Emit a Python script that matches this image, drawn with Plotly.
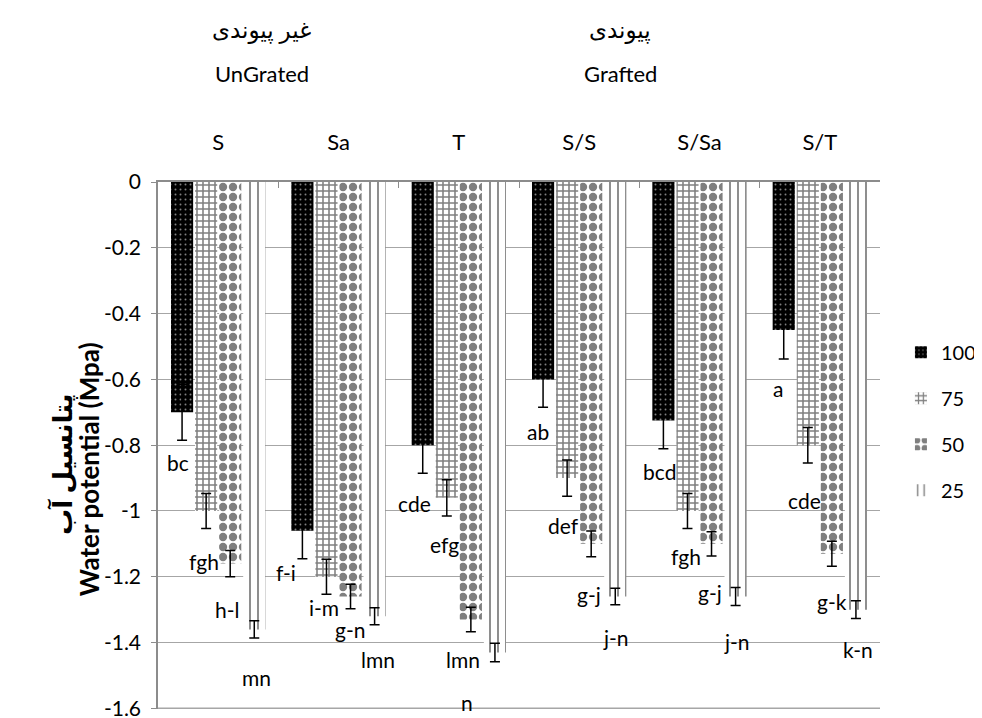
import plotly.graph_objects as go

# ---------------- data ----------------
categories = ["S", "Sa", "T", "S/S", "S/Sa", "S/T"]
series_names = ["100", "75", "50", "25"]

v100 = [-0.70, -1.06, -0.80, -0.60, -0.725, -0.45]
v75 = [-1.00, -1.20, -0.96, -0.90, -1.00, -0.80]
v50 = [-1.16, -1.26, -1.33, -1.10, -1.10, -1.13]
v25 = [-1.36, -1.32, -1.43, -1.26, -1.26, -1.30]

e100 = [0.085, 0.085, 0.085, 0.085, 0.086, 0.088]
e75 = [0.053, 0.053, 0.055, 0.055, 0.053, 0.054]
e50 = [0.040, 0.037, 0.037, 0.039, 0.037, 0.038]
e25 = [0.026, 0.026, 0.028, 0.025, 0.027, 0.027]

l100 = ["bc", "f-i", "cde", "ab", "bcd", "a"]
l75 = ["fgh", "i-m", "efg", "def", "fgh", "cde"]
l50 = ["h-l", "g-n", "lmn", "g-j", "g-j", "g-k"]
l25 = ["mn", "lmn", "n", "j-n", "j-n", "k-n"]

ytick_vals = [0, -0.2, -0.4, -0.6, -0.8, -1.0, -1.2, -1.4, -1.6]
ytick_text = ["0", "-0.2", "-0.4", "-0.6", "-0.8", "-1", "-1.2", "-1.4", "-1.6"]

group_titles_fa = ["غیر پیوندی", "پیوندی"]
group_titles_en = ["UnGrated", "Grafted"]
y_title_fa = "پتانسیل آب"
y_title_en = "Water potential (Mpa)"

# ---------------- styles ----------------
FONT = "Lato, 'DejaVu Sans', sans-serif"
GRID = "#a6a6a6"
patterns = [
    dict(shape=".", bgcolor="black", fgcolor="white", size=5, solidity=0.12),
    dict(shape="+", bgcolor="white", fgcolor="black", size=6, solidity=0.45),
    dict(shape=".", bgcolor="white", fgcolor="black", size=10, solidity=0.55),
    dict(shape="|", bgcolor="white", fgcolor="black", size=8, solidity=0.22),
]
# label pixel offsets (dx, dy below the bar end) per series
label_off = [
    [(-4, 50), (-16, 42), (-8, 58), (-5, 52), (-4, 51), (-6, 58)],
    [(-2, 51), (-2, 31), (-2, 47), (-4, 47), (-1, 46), (-3, 55)],
    [(-3, 46), (-1, 33), (-8, 40), (-2, 51), (-2, 49), (0, 48)],
    [(2, 48), (3, 43), (-28, 50), (1, 41), (1, 45), (2, 40)],
]
slot_offsets = [-0.3, -0.1, 0.1, 0.3]

values = [v100, v75, v50, v25]
errors = [e100, e75, e50, e25]
letters = [l100, l75, l50, l25]

fig = go.Figure()
for i, name in enumerate(series_names):
    fig.add_trace(go.Bar(
        x=categories, y=values[i], name=name,
        legendgroup=name,
        marker=dict(color=patterns[i]["bgcolor"], line=dict(width=0),
                    pattern=patterns[i]),
        error_y=dict(type="data", array=errors[i], color="black",
                     thickness=1.5, width=5),
    ))

annotations = []
for i in range(4):
    for g in range(len(categories)):
        dx, dy = label_off[i][g]
        annotations.append(dict(
            x=g + slot_offsets[i], y=values[i][g], xref="x", yref="y",
            text=letters[i][g], showarrow=False,
            xshift=dx, yshift=-dy,
            font=dict(family=FONT, size=21, color="black"),
        ))

# group titles above the plot
for k, xp in enumerate([0.144, 0.64]):
    annotations.append(dict(x=xp, y=1.29, xref="paper", yref="paper",
                            xanchor="center", yanchor="middle",
                            text=group_titles_fa[k], showarrow=False,
                            font=dict(family=FONT, size=23, color="black")))
    annotations.append(dict(x=xp, y=1.205, xref="paper", yref="paper",
                            xanchor="center", yanchor="middle",
                            text=group_titles_en[k], showarrow=False,
                            font=dict(family=FONT, size=22, color="black")))

# y-axis title (two rotated lines)
annotations.append(dict(x=-0.0956, y=0.455, xref="paper", yref="paper",
                        xanchor="center", yanchor="middle", textangle=-90,
                        text="<b>" + y_title_en + "</b>", showarrow=False,
                        font=dict(family=FONT, size=26, color="black")))
annotations.append(dict(x=-0.133, y=0.465, xref="paper", yref="paper",
                        xanchor="center", yanchor="middle", textangle=-90,
                        text="<b>" + y_title_fa + "</b>", showarrow=False,
                        font=dict(family=FONT, size=26, color="black")))

fig.update_layout(
    width=974, height=710,
    margin=dict(l=150, r=102, t=174, b=9, autoexpand=False),
    paper_bgcolor="white", plot_bgcolor="white",
    barmode="group", bargap=0.2, bargroupgap=0.08,
    font=dict(family=FONT, size=21, color="black"),
    showlegend=True,
    legend=dict(x=1.029, y=0.714, xanchor="left", yanchor="top",
                font=dict(family=FONT, size=20, color="black"),
                tracegroupgap=17, itemwidth=30,
                bgcolor="rgba(0,0,0,0)"),
    annotations=annotations,
    shapes=[dict(type="line", xref="paper", x0=0, x1=1, yref="y",
                 y0=ytick_vals[-1], y1=ytick_vals[-1],
                 line=dict(color=GRID, width=1.5), layer="below")],
    xaxis=dict(side="top", type="category", showline=True,
               linecolor="#8c8c8c", linewidth=2,
               ticks="inside", ticklen=6, tickcolor="#8c8c8c",
               tickson="boundaries", ticklabelstandoff=21,
               showgrid=False, tickfont=dict(size=22)),
    yaxis=dict(range=[-1.602, 0], tickvals=ytick_vals, ticktext=ytick_text,
               showline=True, linecolor="#8c8c8c", linewidth=1.5,
               ticks="outside", ticklen=5, tickcolor="#8c8c8c",
               showgrid=True, gridcolor=GRID, gridwidth=1,
               zeroline=False, tickfont=dict(size=21),
               ticklabelstandoff=6, ticklabeloverflow="allow"),
)

fig.write_html("out.html")
